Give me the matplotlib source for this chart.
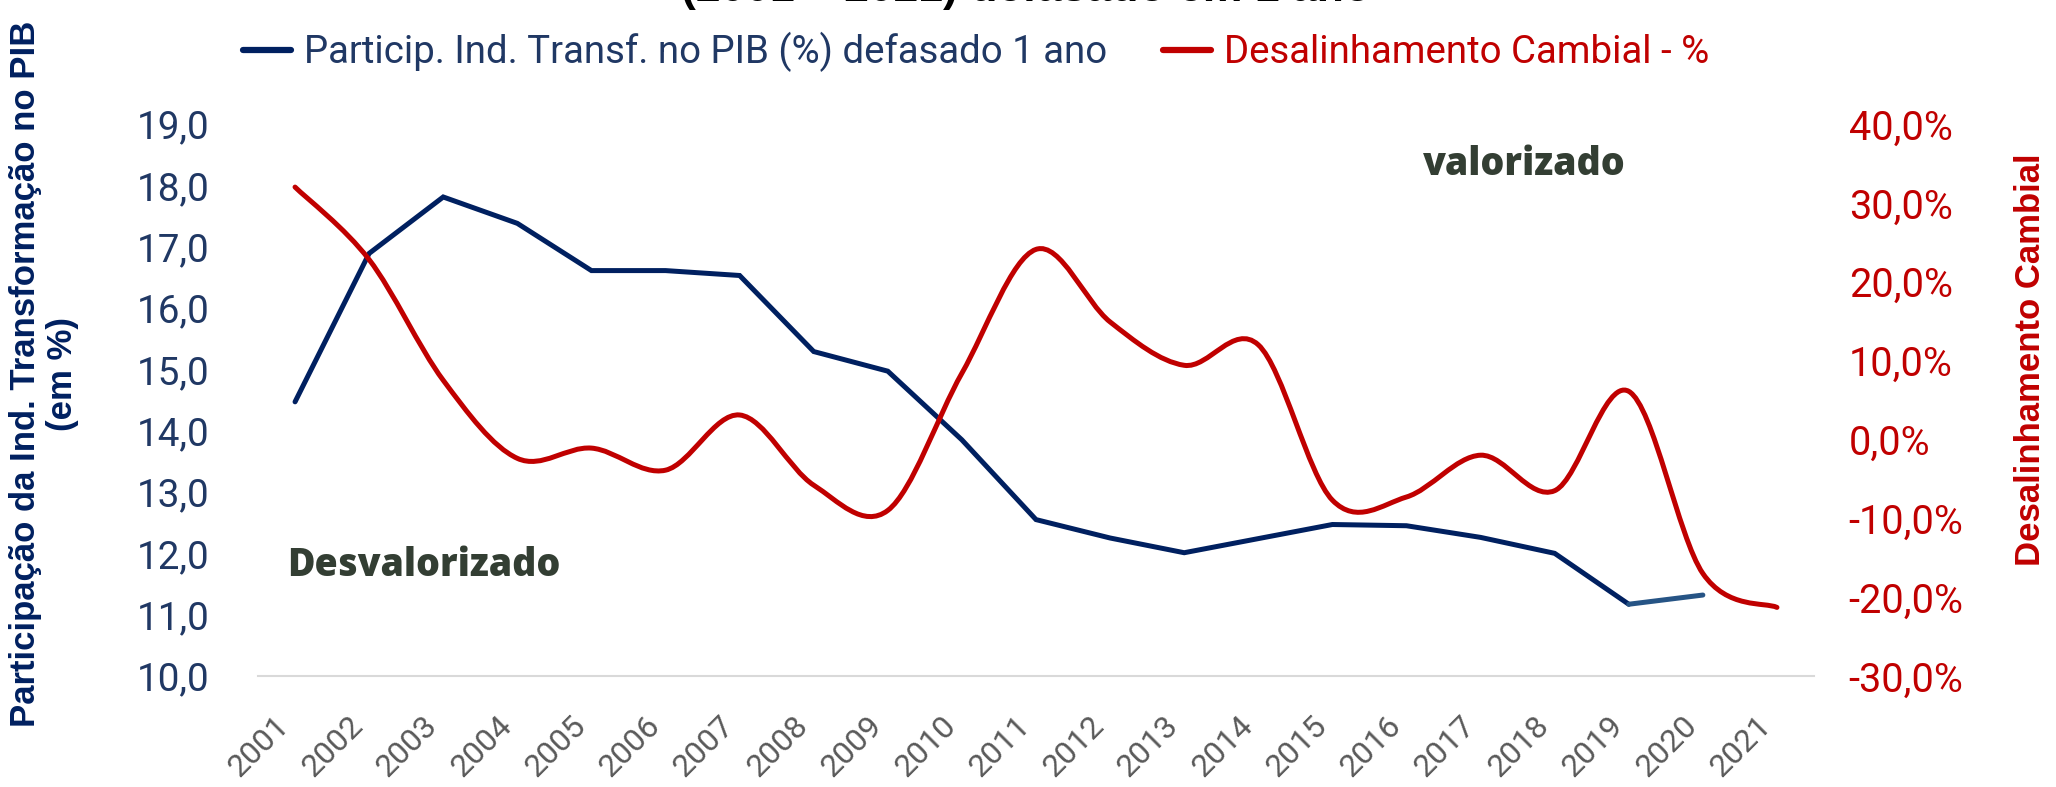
import numpy as np
import matplotlib.pyplot as plt
from matplotlib.path import Path
from matplotlib.patches import PathPatch
from matplotlib.lines import Line2D

anos = ['2001', '2002', '2003', '2004', '2005', '2006', '2007', '2008', '2009', '2010', '2011',
        '2012', '2013', '2014', '2015', '2016', '2017', '2018', '2019', '2020', '2021']
# participacao da ind. transformacao no PIB (%), defasado 1 ano (ate 2020)
particip = [14.47, 16.89, 17.81, 17.38, 16.61, 16.61, 16.53, 15.29, 14.97, 13.85,
            12.55, 12.25, 12.01, 12.24, 12.47, 12.45, 12.26, 12.00, 11.17, 11.32]
# desalinhamento cambial (%)
desalinh = [32.0, 22.8, 7.5, -2.4, -1.1, -3.9, 3.1, -5.8, -9.0, 8.4,
            24.1, 14.9, 9.4, 12.0, -7.7, -7.3, -2.0, -6.5, 6.1, -17.0, -21.3]
ticks_esq = [10, 11, 12, 13, 14, 15, 16, 17, 18, 19]
ticks_dir = [-30, -20, -10, 0, 10, 20, 30, 40]

AZUL = '#002060'
AZUL_CLARO = '#265485'
VERMELHO = '#C00000'
TXT_AZUL = '#203864'
VERDE = '#333E33'


def curva_suave(x, y):
    # bezier tipo "linha suavizada" do excel
    pts = np.column_stack([x, y]).astype(float)
    n = len(pts)
    verts = [pts[0]]
    codes = [Path.MOVETO]
    for i in range(n - 1):
        p0 = pts[max(i - 1, 0)]
        p1 = pts[i]
        p2 = pts[i + 1]
        p3 = pts[min(i + 2, n - 1)]
        verts += [p1 + (p2 - p0) / 6, p2 - (p3 - p1) / 6, p2]
        codes += [Path.CURVE4] * 3
    return Path(verts, codes)


fig = plt.figure(figsize=(20.56, 7.87), dpi=100)
ax = fig.add_axes([258 / 2056, 1 - 676 / 787, (1814 - 258) / 2056, (676 - 124) / 787])
ax2 = ax.twinx()

x = np.arange(len(anos))
n_az = len(particip)
ax.plot(x[:n_az - 1], particip[:n_az - 1], color=AZUL, lw=3.6, solid_joinstyle='miter',
        solid_capstyle='round')
ax.plot(x[n_az - 2:n_az], particip[n_az - 2:n_az], color=AZUL_CLARO, lw=3.6,
        solid_capstyle='round')

ax2.add_patch(PathPatch(curva_suave(x, desalinh), fill=False, edgecolor=VERMELHO, lw=3.6,
                        capstyle='round'))

ax.set_xlim(-0.5, len(anos) - 0.5)
ax.set_ylim(10, 19)
ax2.set_ylim(-30, 40)

ax.set_xticks(x)
ax.set_xticklabels(anos, rotation=45, ha='right', fontsize=23, color='#595959',
                   family='Roboto')
ax.set_yticks(ticks_esq)
ax.set_yticklabels([f'{v:.1f}'.replace('.', ',') for v in ticks_esq], fontsize=27.8,
                   color=TXT_AZUL, family='Roboto')
ax2.set_yticks(ticks_dir)
ax2.set_yticklabels([f'{v:.1f}%'.replace('.', ',') for v in ticks_dir], fontsize=28.5,
                    color=VERMELHO, family='Roboto')

ax.tick_params(axis='x', length=0, pad=25)
ax.tick_params(axis='y', length=0, pad=35)
ax2.tick_params(axis='y', length=0, pad=25)

for a in (ax, ax2):
    for s in ('top', 'left', 'right'):
        a.spines[s].set_visible(False)
    a.spines['bottom'].set_color('#D9D9D9')
    a.spines['bottom'].set_linewidth(1.5)
ax2.spines['bottom'].set_visible(False)

# titulos dos eixos
fig.text(44 / 2056, 1 - 374 / 787, 'Participação da Ind. Transformação no PIB\n(em %)',
         rotation=90, ha='center', va='center', multialignment='center',
         fontsize=25, fontweight='bold', color=AZUL, family='Liberation Sans',
         linespacing=1.15)
fig.text(2030 / 2056, 1 - 360 / 787, 'Desalinhamento Cambial', rotation=90, ha='center',
         va='center', fontsize=25, fontweight='bold', color=VERMELHO, family='Liberation Sans')

# titulo (cortado no topo, como no original)
fig.text(1026 / 2056, 1 - 1.5 / 787, '(2001 – 2021) defasado em 1 ano', ha='center',
         va='baseline', fontsize=32, fontweight='bold', color='black', family='Liberation Sans')

fig.text(286.7 / 2056, 1 - 576 / 787, 'Desvalorizado', ha='left', va='baseline',
         fontsize=27, fontweight=800, color=VERDE, family='Open Sans')
fig.text(1524 / 2056, 1 - 175 / 787, 'valorizado', ha='center', va='baseline',
         fontsize=27, fontweight=800, color=VERDE, family='Open Sans')

handles = [Line2D([], [], color=AZUL, lw=4.5, solid_capstyle='round'),
           Line2D([], [], color=VERMELHO, lw=4.5, solid_capstyle='round')]
labels = ['Particip. Ind. Transf. no PIB (%) defasado 1 ano', 'Desalinhamento Cambial - %']
leg = fig.legend(handles, labels, loc='center', bbox_to_anchor=(976 / 2056, 1 - 52 / 787),
                 ncol=2, frameon=False, handlelength=1.25, handletextpad=0.35,
                 columnspacing=1.45, prop={'family': 'Roboto', 'size': 27.6})
leg.get_texts()[0].set_color(TXT_AZUL)
leg.get_texts()[1].set_color(VERMELHO)

fig.savefig('out.png', dpi=100)
